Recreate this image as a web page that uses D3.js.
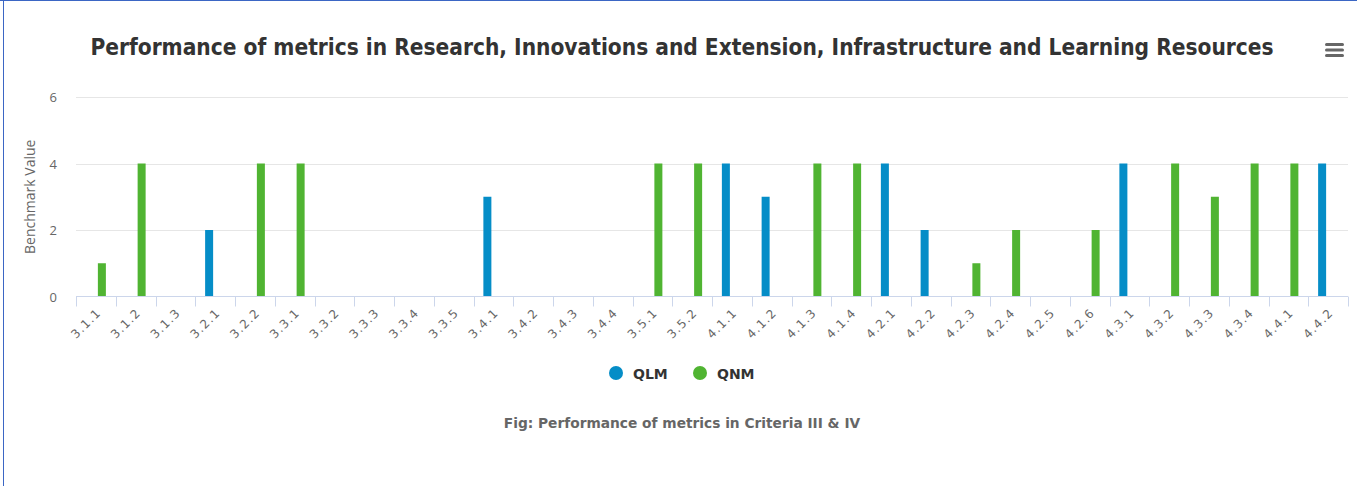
<!DOCTYPE html>
<html>
<head>
<meta charset="utf-8">
<script src="https://cdn.jsdelivr.net/npm/d3@7"></script>
<style>
  body { margin: 0; background: #fff; }
  svg { display: block; font-family: "DejaVu Sans", sans-serif; }
</style>
</head>
<body>
<svg id="chart" width="1357" height="486"></svg>
<script>
const categories = ["3.1.1","3.1.2","3.1.3","3.2.1","3.2.2","3.3.1","3.3.2","3.3.3","3.3.4","3.3.5",
  "3.4.1","3.4.2","3.4.3","3.4.4","3.5.1","3.5.2","4.1.1","4.1.2","4.1.3","4.1.4",
  "4.2.1","4.2.2","4.2.3","4.2.4","4.2.5","4.2.6","4.3.1","4.3.2","4.3.3","4.3.4","4.4.1","4.4.2"];
const qlm = [null,null,null,2,null,null,null,null,null,null,
  3,null,null,null,null,null,4,3,null,null,
  4,2,null,null,null,null,4,null,null,null,null,4];
const qnm = [1,4,null,null,4,4,null,null,null,null,
  null,null,null,null,4,4,null,null,4,4,
  null,null,1,2,null,2,null,4,3,4,4,null];
const seriesNames = ["QLM","QNM"];
const colors = ["#058DC7","#50B432"];
const yTicks = [0,2,4,6];

const svg = d3.select("#chart");
const plot = {left: 76, right: 1348, top: 97, bottom: 296.5};

// container border
svg.append("line").attr("x1",3.5).attr("x2",3.5).attr("y1",0).attr("y2",486).attr("stroke","#3b66c4");
svg.append("line").attr("x1",0).attr("x2",1357).attr("y1",0.5).attr("y2",0.5).attr("stroke","#3b66c4");

const x = d3.scaleBand().domain(categories).range([plot.left, plot.right]);
const bw = x.bandwidth();
const xs = d3.scaleBand().domain(seriesNames).range([bw / 2 - 10, bw / 2 + 10]).paddingInner(1 / 3);
const y = d3.scaleLinear().domain([0,6]).range([plot.bottom, plot.top]);

// gridlines
svg.append("g").selectAll("line").data(yTicks.filter(d => d > 0)).join("line")
  .attr("x1", plot.left).attr("x2", plot.right)
  .attr("y1", d => Math.round(y(d)) + 0.5).attr("y2", d => Math.round(y(d)) + 0.5)
  .attr("stroke", "#e6e6e6");

// y labels
svg.append("g").selectAll("text").data(yTicks).join("text")
  .attr("x", 57).attr("y", d => y(d) + 5)
  .attr("text-anchor", "end").attr("fill", "#666")
  .style("font-family", "'Open Sans', sans-serif").style("font-size", "13px")
  .text(d => d);

svg.append("text")
  .attr("transform", `translate(35,${(plot.top + plot.bottom) / 2}) rotate(-90)`)
  .attr("text-anchor", "middle").attr("fill", "#666")
  .style("font-family", "'Open Sans', sans-serif").style("font-size", "14px")
  .text("Benchmark Value");

// bars
const series = [qlm, qnm];
series.forEach((vals, si) => {
  svg.append("g").selectAll("rect")
    .data(vals.map((v, i) => ({cat: categories[i], v})).filter(d => d.v != null))
    .join("rect")
    .attr("x", d => x(d.cat) + xs(seriesNames[si]))
    .attr("width", xs.bandwidth())
    .attr("y", d => y(d.v))
    .attr("height", d => y(0) - y(d.v))
    .attr("fill", colors[si]);
});

// x axis
svg.append("line").attr("x1", plot.left).attr("x2", plot.right)
  .attr("y1", plot.bottom).attr("y2", plot.bottom).attr("stroke", "#ccd6eb");
const bounds = categories.map(c => x(c)).concat([plot.right]);
svg.append("g").selectAll("line").data(bounds).join("line")
  .attr("x1", d => Math.round(d) + 0.5).attr("x2", d => Math.round(d) + 0.5)
  .attr("y1", plot.bottom).attr("y2", plot.bottom + 10).attr("stroke", "#ccd6eb");
svg.append("g").selectAll("text").data(categories).join("text")
  .attr("transform", d => `translate(${x(d) + bw / 2 + 6},${plot.bottom + 17}) rotate(-45)`)
  .attr("text-anchor", "end").attr("fill", "#666").style("font-size", "12px")
  .style("letter-spacing", "1.2px")
  .text(d => d);

// size a text so its width comes close to a target width
function fitWidth(sel, target, start) {
  let fs = start;
  sel.style("font-size", fs + "px");
  while (sel.node().getComputedTextLength() > target && fs > 8) {
    fs -= 0.25;
    sel.style("font-size", fs + "px");
  }
}

// title
const title = svg.append("text").attr("x", 682).attr("y", 55).attr("text-anchor", "middle")
  .attr("fill", "#333").style("font-family", "'DejaVu Sans Condensed', 'DejaVu Sans', sans-serif")
  .style("font-weight", "bold")
  .text("Performance of metrics in Research, Innovations and Extension, Infrastructure and Learning Resources");
fitWidth(title, 1188, 23);

// menu icon
svg.append("g").selectAll("rect").data([0,1,2]).join("rect")
  .attr("x", 1325).attr("y", d => 43 + d * 5.5).attr("width", 19).attr("height", 3).attr("rx", 1.5)
  .attr("fill", "#666");

// legend
const legend = svg.append("g");
const legendX = [616, 700];
seriesNames.forEach((n, i) => {
  legend.append("circle").attr("cx", legendX[i]).attr("cy", 373).attr("r", 7).attr("fill", colors[i]);
  legend.append("text").attr("x", legendX[i] + 17).attr("y", 378.5)
    .attr("fill", "#333").style("font-size", "14px").style("font-weight", "bold")
    .text(n);
});

// caption
const caption = svg.append("text").attr("x", 682).attr("y", 428).attr("text-anchor", "middle")
  .attr("fill", "#666").style("font-weight", "bold")
  .text("Fig: Performance of metrics in Criteria III & IV");
fitWidth(caption, 360, 15);
</script>
</body>
</html>
